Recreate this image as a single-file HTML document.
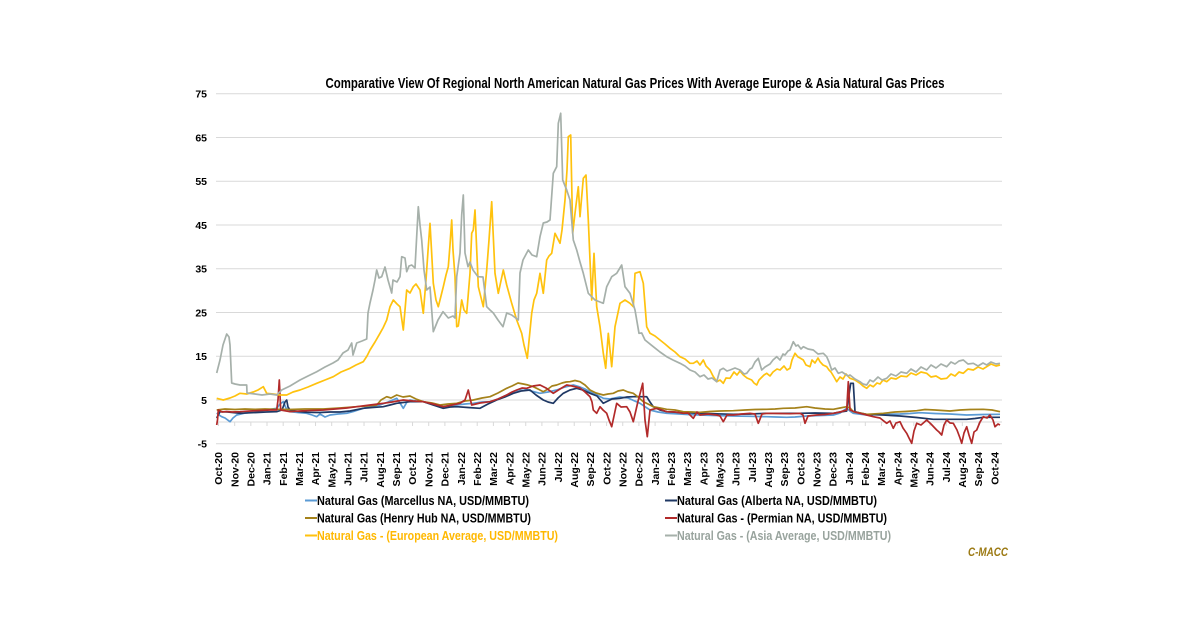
<!DOCTYPE html>
<html><head><meta charset="utf-8"><style>
html,body{margin:0;padding:0;background:#fff;}
svg{display:block;}
text{font-family:"Liberation Sans",sans-serif;}
</style></head><body>
<svg width="1200" height="627" viewBox="0 0 1200 627" xmlns="http://www.w3.org/2000/svg">
<rect width="1200" height="627" fill="#fff"/>
<text x="635" y="88" text-anchor="middle" font-size="15" font-weight="bold" fill="#000" textLength="619" lengthAdjust="spacingAndGlyphs">Comparative View Of Regional North American Natural Gas Prices With Average Europe &amp; Asia Natural Gas Prices</text>
<g stroke="#d9d9d9" stroke-width="1">
<line x1="216" y1="93.75" x2="1002" y2="93.75"/>
<line x1="216" y1="137.5" x2="1002" y2="137.5"/>
<line x1="216" y1="181.25" x2="1002" y2="181.25"/>
<line x1="216" y1="225" x2="1002" y2="225"/>
<line x1="216" y1="268.75" x2="1002" y2="268.75"/>
<line x1="216" y1="312.5" x2="1002" y2="312.5"/>
<line x1="216" y1="356.25" x2="1002" y2="356.25"/>
<line x1="216" y1="400" x2="1002" y2="400"/>
<line x1="216" y1="422" x2="1002" y2="422"/>
<line x1="216" y1="443.75" x2="1002" y2="443.75"/>
</g>
<g font-size="10.5" font-weight="bold" fill="#000" text-anchor="end">
<text x="207" y="97.5">75</text>
<text x="207" y="141.3">65</text>
<text x="207" y="185">55</text>
<text x="207" y="228.8">45</text>
<text x="207" y="272.5">35</text>
<text x="207" y="316.3">25</text>
<text x="207" y="360">15</text>
<text x="207" y="403.8">5</text>
<text x="207" y="447.5">-5</text>
</g>
<g stroke="#d9d9d9" stroke-width="1">
<line x1="218.5" y1="422" x2="218.5" y2="426"/><line x1="234.67" y1="422" x2="234.67" y2="426"/><line x1="250.84" y1="422" x2="250.84" y2="426"/><line x1="267.01" y1="422" x2="267.01" y2="426"/><line x1="283.18" y1="422" x2="283.18" y2="426"/><line x1="299.35" y1="422" x2="299.35" y2="426"/><line x1="315.52" y1="422" x2="315.52" y2="426"/><line x1="331.69" y1="422" x2="331.69" y2="426"/><line x1="347.86" y1="422" x2="347.86" y2="426"/><line x1="364.03" y1="422" x2="364.03" y2="426"/><line x1="380.2" y1="422" x2="380.2" y2="426"/><line x1="396.37" y1="422" x2="396.37" y2="426"/><line x1="412.54" y1="422" x2="412.54" y2="426"/><line x1="428.71" y1="422" x2="428.71" y2="426"/><line x1="444.88" y1="422" x2="444.88" y2="426"/><line x1="461.05" y1="422" x2="461.05" y2="426"/><line x1="477.22" y1="422" x2="477.22" y2="426"/><line x1="493.39" y1="422" x2="493.39" y2="426"/><line x1="509.56" y1="422" x2="509.56" y2="426"/><line x1="525.73" y1="422" x2="525.73" y2="426"/><line x1="541.9" y1="422" x2="541.9" y2="426"/><line x1="558.07" y1="422" x2="558.07" y2="426"/><line x1="574.24" y1="422" x2="574.24" y2="426"/><line x1="590.41" y1="422" x2="590.41" y2="426"/><line x1="606.58" y1="422" x2="606.58" y2="426"/><line x1="622.75" y1="422" x2="622.75" y2="426"/><line x1="638.92" y1="422" x2="638.92" y2="426"/><line x1="655.09" y1="422" x2="655.09" y2="426"/><line x1="671.26" y1="422" x2="671.26" y2="426"/><line x1="687.43" y1="422" x2="687.43" y2="426"/><line x1="703.6" y1="422" x2="703.6" y2="426"/><line x1="719.77" y1="422" x2="719.77" y2="426"/><line x1="735.94" y1="422" x2="735.94" y2="426"/><line x1="752.11" y1="422" x2="752.11" y2="426"/><line x1="768.28" y1="422" x2="768.28" y2="426"/><line x1="784.45" y1="422" x2="784.45" y2="426"/><line x1="800.62" y1="422" x2="800.62" y2="426"/><line x1="816.79" y1="422" x2="816.79" y2="426"/><line x1="832.96" y1="422" x2="832.96" y2="426"/><line x1="849.13" y1="422" x2="849.13" y2="426"/><line x1="865.3" y1="422" x2="865.3" y2="426"/><line x1="881.47" y1="422" x2="881.47" y2="426"/><line x1="897.64" y1="422" x2="897.64" y2="426"/><line x1="913.81" y1="422" x2="913.81" y2="426"/><line x1="929.98" y1="422" x2="929.98" y2="426"/><line x1="946.15" y1="422" x2="946.15" y2="426"/><line x1="962.32" y1="422" x2="962.32" y2="426"/><line x1="978.49" y1="422" x2="978.49" y2="426"/><line x1="994.66" y1="422" x2="994.66" y2="426"/>
</g>
<g font-size="10.5" font-weight="bold" fill="#000" text-anchor="end">
<text transform="translate(222.2,452) rotate(-90)">Oct-20</text>
<text transform="translate(238.37,452) rotate(-90)">Nov-20</text>
<text transform="translate(254.54,452) rotate(-90)">Dec-20</text>
<text transform="translate(270.71,452) rotate(-90)">Jan-21</text>
<text transform="translate(286.88,452) rotate(-90)">Feb-21</text>
<text transform="translate(303.05,452) rotate(-90)">Mar-21</text>
<text transform="translate(319.22,452) rotate(-90)">Apr-21</text>
<text transform="translate(335.39,452) rotate(-90)">May-21</text>
<text transform="translate(351.56,452) rotate(-90)">Jun-21</text>
<text transform="translate(367.73,452) rotate(-90)">Jul-21</text>
<text transform="translate(383.9,452) rotate(-90)">Aug-21</text>
<text transform="translate(400.07,452) rotate(-90)">Sep-21</text>
<text transform="translate(416.24,452) rotate(-90)">Oct-21</text>
<text transform="translate(432.41,452) rotate(-90)">Nov-21</text>
<text transform="translate(448.58,452) rotate(-90)">Dec-21</text>
<text transform="translate(464.75,452) rotate(-90)">Jan-22</text>
<text transform="translate(480.92,452) rotate(-90)">Feb-22</text>
<text transform="translate(497.09,452) rotate(-90)">Mar-22</text>
<text transform="translate(513.26,452) rotate(-90)">Apr-22</text>
<text transform="translate(529.43,452) rotate(-90)">May-22</text>
<text transform="translate(545.6,452) rotate(-90)">Jun-22</text>
<text transform="translate(561.77,452) rotate(-90)">Jul-22</text>
<text transform="translate(577.94,452) rotate(-90)">Aug-22</text>
<text transform="translate(594.11,452) rotate(-90)">Sep-22</text>
<text transform="translate(610.28,452) rotate(-90)">Oct-22</text>
<text transform="translate(626.45,452) rotate(-90)">Nov-22</text>
<text transform="translate(642.62,452) rotate(-90)">Dec-22</text>
<text transform="translate(658.79,452) rotate(-90)">Jan-23</text>
<text transform="translate(674.96,452) rotate(-90)">Feb-23</text>
<text transform="translate(691.13,452) rotate(-90)">Mar-23</text>
<text transform="translate(707.3,452) rotate(-90)">Apr-23</text>
<text transform="translate(723.47,452) rotate(-90)">May-23</text>
<text transform="translate(739.64,452) rotate(-90)">Jun-23</text>
<text transform="translate(755.81,452) rotate(-90)">Jul-23</text>
<text transform="translate(771.98,452) rotate(-90)">Aug-23</text>
<text transform="translate(788.15,452) rotate(-90)">Sep-23</text>
<text transform="translate(804.32,452) rotate(-90)">Oct-23</text>
<text transform="translate(820.49,452) rotate(-90)">Nov-23</text>
<text transform="translate(836.66,452) rotate(-90)">Dec-23</text>
<text transform="translate(852.83,452) rotate(-90)">Jan-24</text>
<text transform="translate(869,452) rotate(-90)">Feb-24</text>
<text transform="translate(885.17,452) rotate(-90)">Mar-24</text>
<text transform="translate(901.34,452) rotate(-90)">Apr-24</text>
<text transform="translate(917.51,452) rotate(-90)">May-24</text>
<text transform="translate(933.68,452) rotate(-90)">Jun-24</text>
<text transform="translate(949.85,452) rotate(-90)">Jul-24</text>
<text transform="translate(966.02,452) rotate(-90)">Aug-24</text>
<text transform="translate(982.19,452) rotate(-90)">Sep-24</text>
<text transform="translate(998.36,452) rotate(-90)">Oct-24</text>
</g>
<g fill="none" stroke-width="1.7" stroke-linejoin="round">
<polyline stroke="#5b9bd5" points="216.7,413 219,415 221.7,416.7 225,418 230,421.7 233,418 236.7,415 245,413 256.7,411.7 266,410 276.7,408.3 280,404 283.3,401.7 286,408 290,411.7 298,412.5 306.7,413.3 312,415 316.7,416.7 320,414 325,417 330,415 338,414 346.7,413.3 355,411 363.3,408.3 372,406 380,405 388,402 396.7,398.3 400,403 403.3,408.3 407,402 410,400 416,401 423.3,401.7 433,404 443.3,406.7 450,405.5 456.7,405 465,404 473.3,403.3 482,402 490,401.7 498,399 506.7,395 515,391 523.3,388.3 531,391 540,393.3 548,392 556.7,390 565,387 573.3,385 580,387 585,389 590,391.7 597,395 603.3,398.3 610,399 620,397 628,398 640,403.3 650,410 658,412 666.7,413.3 680,414 690,414.7 700,415 715,415.5 733.3,416 750,416.3 766.7,416.7 776,417 786.7,417.3 795,417 806.7,416 820,415.5 833.3,415 840,413 846.7,408.3 850,411 853.3,413.3 866.7,415 880,414.5 900,414 910,413.5 920,412.7 935,413.5 950,414 966.7,415 983.3,414.5 1000,414.3"/>
<polyline stroke="#1f3864" points="216.7,418 220,411.7 228,412 240,413.3 256.7,412.5 266,412 276.7,411.7 282,410 285,402 286.7,400 288,407 290,410 298,411.5 306.7,412.3 320,412.5 330,412 340,412 350,411 363.3,408.3 372,407.5 383.3,406.7 390,405 396.7,403.3 403,402.5 410,401.7 416,401.5 423.3,401.7 433,405 443.3,408.3 450,407 456.7,406.7 468,407.5 480,408.3 488,404 496.7,400 505,397 513.3,393.3 521,391 530,390 536,395 543.3,400 548,402 553.3,403.3 558,398 563.3,393.3 570,390 576.7,388.3 583,390 590,393.3 597,396 603.3,403.3 612,399 620,398.3 627,397 633.3,396.7 640,396.7 646.7,396.7 650,402 653.3,406.7 660,410 666.7,411.7 680,412.5 700,413.3 716.7,413.8 733.3,414.3 750,414 766.7,413.3 785,413.3 800,413.3 815,413 833.3,413.3 840,412 846.7,411 849,395 850.7,383.3 853.3,383.3 854,395 855,411.7 860,413 866.7,414.3 883.3,415 900,416 916.7,417.5 933.3,419.3 950,419.3 966.7,419.3 975,418.5 983.3,417.3 1000,417.3"/>
<polyline stroke="#a5821a" points="216.7,410 225,409 235,409.5 245,409 255,409.3 265,409 276.7,409.3 290,409.5 305,409 323.3,409 340,408 356.7,406.7 366,406 376.7,405 381,400 386.7,396.7 391,398 396.7,395 403,397 410,396 416,399 423.3,401.7 432,403 440,405 448,404 456.7,403.3 465,401 473.3,400 482,398 490,396.7 498,393 506.7,388.3 512,386 518,383 523.3,384 528,385 533.3,386.7 538,389 543.3,391.7 548,389 552,386 556.7,385 562,383 566,382 570,381.7 575,380.5 580,381.7 585,385 590,390 596,393 603.3,395 608,394 613.3,393.3 618,391 623.3,390 628,392 633.3,393.3 638,397 643.3,401.7 648,404 653.3,406.7 660,408 666.7,409.3 675,410 683.3,411.7 692,412 700,412.3 710,411.5 720,411 733.3,410.7 745,410 755,409.5 766.7,409.3 775,409 783.3,408.3 795,408 806.7,406.7 815,408 825,409 833.3,409.3 840,408 846.7,406.7 850,408 853.3,411.7 860,413 866.7,414.3 875,413.8 883.3,413.3 895,412 905,411.5 916.7,410.7 925,409.5 935,410 950,411 960,410 970,409.5 983.3,409.3 992,410 1000,411.7"/>
<polyline stroke="#b22a2a" points="216.7,425 217.5,420 218.3,410 222,412 226.7,411.5 232,412 240,411.7 250,411 260,410.5 270,410 276.7,410 278,400 279.3,380 280,395 280.7,410 290,411.7 300,411 310,410.5 323.3,410 335,409 346.7,408 356.7,406.7 370,405 383.3,403.3 392,402 403.3,400 413,401 423.3,401.7 433,404 443.3,406.7 452,405 460,403.3 465,400 468.3,390 470,398 471.7,405 480,403 490,401.7 498,399 506.7,395 512,392 516.7,390 522,388 526.7,388.3 533,386 540,385 546,388 553.3,393.3 560,389 566.7,385 572,386 580,388 585,392 590,396.7 592,402 593.3,410 596.7,413.3 600,406.7 603,410 606.7,413.3 609,420 611.7,426.7 614,416 616.7,403.3 621,407 626.7,406.7 630,412 633.3,421.7 636,410 638.3,400 640.5,392 642.7,383.3 645,420 647.3,436.7 650,410 656.7,408.3 662,410 666.7,411.7 675,412 683.3,413.3 688,413 693.3,418.3 697,412 700,415 708,414 716.7,415 720,416 723.3,421.7 727,415 733.3,415 742,414 750,413.3 755,414 758.3,423.3 762,414 766.7,413.3 780,413.5 790,413.7 800,413.3 803,415 805,423.3 808,416 816.7,415 825,414.5 833.3,413.3 840,412 846.7,410 848.3,381.7 850,410 855,412 860,413.3 866.7,415 873.3,416.7 880,418 886.7,423.3 890,421 893.3,428.3 896,423 900,421.7 903,428 906.7,433.3 909,438 911.7,443.3 914,431 916.7,423.3 921,425 926.7,420 931,424 936.7,430 939,432 941.7,435 944,425 946.7,420 950,423 953.3,423.3 957,430 960,438 961.7,443.3 964,433 966.7,426.7 969,435 971.7,443.3 974,432 976.7,430 980,422 983.3,416.7 987,418 990,415 993,420 995,426.7 998,424 1000,425"/>
<polyline stroke="#ffc20e" points="216.7,398.3 223.3,400 230,398 235,396 240,393.3 246.7,394 253.3,392 258,390 263.3,386.7 266.7,393.3 273,394 280,395 286.7,395 293,392 300,390 308,387 316.7,383.3 325,380 333.3,376.7 341,372 350,368.3 356,365 363.3,361.7 367,356 370,350 375,342 380,333.3 383,328 386.7,320 390,306.7 393.3,300 397,304 400,306.7 403.3,330 406.7,290 410,293 413.3,286.7 416,284 420,290 423.3,313.3 426,280 428.3,246.7 430,223.3 431.5,250 433.3,283.3 436,300 438.3,306.7 441,296 443.3,286.7 446,275 448.3,266.7 450,245 451.7,220 453,250 455,276.7 456.7,326.7 458.3,326 460,313.3 461.7,300 464,310 466.7,313.3 470,273.3 471.7,233.3 473.3,230 475,210 478.3,286.7 483.3,306.7 486.7,270 489,240 491.7,201.7 493,230 495,273.3 498.3,293.3 503.3,270 506.7,285 511.7,303.3 516.7,320 521.7,333.3 524,345 527.3,358.3 531.7,313.3 534,300 536.7,293.3 540,273.3 543.3,293.3 546.7,260 549,256 551.7,253.3 555,233.3 560,243.3 562,230 565,200 567,170 568.3,136.7 570.7,135 572.7,233.3 575,213.3 578.3,186.7 580,216.7 583.3,178.3 586,175 588.3,220 590,260 591.7,300 594,253.3 596.7,306.7 600,326.7 603.3,353.3 605.7,368.3 608.3,333.3 611.7,366.7 615,326.7 620,303.3 625,300 630,303.3 633.3,306.7 635,273.3 640,271.7 643.3,283.3 646.7,326.7 650,333.3 655,336 660,340 665,344 670,348.3 675,352 680,356.7 685,359 690,363.3 693.3,363.3 697,361 700,365 703.3,360 706,366 710,370 713,376 716.7,381.7 720,380 723.3,383.3 726,378 730,378.3 734,372 737,375 740,371 743.3,375 747,378 751.7,380 754,383 756.7,385 759,380 761,378 764,375 766.7,373.3 770,376 773,372 777,369 780,370 784,366 787,370 790,368.3 792,360 795,353.3 798,357 800,358 803.3,360 806,365 810,366.7 812,360 815,363 818,358 820,361.7 823,365 826.7,366.7 829,370 831,372 834,377 836.7,381.7 840,377 843,379 846,374 850,378.3 855,380 860,383.3 863,386 866.7,388.3 870,385 873.3,386.7 877,383 880,384 883,380 886.7,381.7 891,378 896,379 901,376 906.7,376.7 911,373 916,375 921,372 926.7,373.3 931,377 936,376 941,379 946.7,378.3 951,374 955,376 959,372 963.3,373.3 968,369 973.3,370 978,367 983,369 986.7,366.7 991,364 996,366 1000,365"/>
<polyline stroke="#a6b0aa" points="216.7,373 220,360 223,345 226.7,334 229,337 230,345 231.7,383 235,384 240,385 246.7,385 247,393 255,394 262,395 270,394 276.7,395 281.7,390 290,386 300,380 308,376 316.7,371.7 325,367 333,363 338,360 343,353 348,350 351.7,343 353,355 356.7,343 362,341 366.7,339 368,313 370,303 373,290 375,280 376.7,270 379,278 381.7,276.7 385,267 388,280 391.7,293 393,280 397,282 400,276.7 401.7,256.7 405,258 406.7,271.7 409,266 411.7,265 415,268 416.5,240 418.3,206.7 420,225 421.7,240 424,270 426.7,290 430,287 433.3,331.7 436,325 438,320 443,311.7 448.3,318 453,316 455,318 456.7,276.7 460,253 461.7,215 463.3,195 465,253 468,266.7 470,262 473,270 478,276.7 483,277 486.7,306.7 490,310 493.3,313 498,320 503,326.7 506.7,313 511.7,315 518.3,320 520,273 523,260 528.3,250 532,255 536.7,256.7 540,236.7 543.3,223 547,222 550,220 553.3,173.3 556.7,166.7 558.3,123.3 560.7,113.3 562.7,180 566.7,190 570,200 573.3,240 576.7,250 580,262 583.3,273.3 588.3,293.3 595,300 600,302 603.3,303.3 606.7,286.7 611.7,276.7 616.7,273.3 621.7,265 625,286.7 630,293.3 635,310 639,333.3 641.7,333 645,340 653.3,346.7 660,352 666.7,356.7 673,360 680,363.3 685,366 690,370 695,372 700,376.7 704,375 708,379 712,378 716.7,381.7 720,370 723.3,368.3 727,371 730,370 735,368 740,370 744,374 746.7,373.3 750,369 752,368 755,362 758.3,358.3 761.7,370 765,367 770,364 773,360 776.7,356.7 780,360 783,354 785,355 788,351 790,350 793.3,341.7 796,346 798,345 801,349 803.3,346.7 808,349 813.3,350 818,354 823.3,353.3 826.7,356.7 829,362 831.7,370 835,368 838.3,373.3 842,372 845,374 848,376 850,375 855,379 860,381.7 863,384 866.7,385 870,380 873.3,381.7 878,377 882,380 886.7,378.3 891,374 896,376 901,372 906.7,373.3 911,369 916,372 921,367 926.7,370 931,365 936,368 941,364 946.7,366.7 951,362 955,364 959,361 963.3,360 968,364 973.3,363.3 978,366 983,363 986.7,365 991,362 996,364 1000,363.3"/>
</g>
<g stroke-width="2">
<line x1="305" y1="500.5" x2="317" y2="500.5" stroke="#5b9bd5"/>
<line x1="305" y1="518" x2="317" y2="518" stroke="#a5821a"/>
<line x1="305" y1="535.5" x2="317" y2="535.5" stroke="#ffc20e"/>
<line x1="665" y1="500.5" x2="677" y2="500.5" stroke="#1f3864"/>
<line x1="665" y1="518" x2="677" y2="518" stroke="#b22a2a"/>
<line x1="665" y1="535.5" x2="677" y2="535.5" stroke="#a6b0aa"/>
</g>
<g font-size="13" font-weight="bold">
<text x="317" y="505" fill="#000" textLength="212" lengthAdjust="spacingAndGlyphs">Natural Gas (Marcellus NA, USD/MMBTU)</text>
<text x="317" y="522.5" fill="#000" textLength="214" lengthAdjust="spacingAndGlyphs">Natural Gas (Henry Hub NA, USD/MMBTU)</text>
<text x="317" y="540" fill="#ffb800" textLength="241" lengthAdjust="spacingAndGlyphs">Natural Gas - (European Average, USD/MMBTU)</text>
<text x="677" y="505" fill="#000" textLength="200" lengthAdjust="spacingAndGlyphs">Natural Gas (Alberta NA, USD/MMBTU)</text>
<text x="677" y="522.5" fill="#000" textLength="210" lengthAdjust="spacingAndGlyphs">Natural Gas - (Permian NA, USD/MMBTU)</text>
<text x="677" y="540" fill="#98a39d" textLength="214" lengthAdjust="spacingAndGlyphs">Natural Gas - (Asia Average, USD/MMBTU)</text>
</g>
<text x="968" y="556" font-size="12" font-weight="bold" font-style="italic" fill="#9c7a14" textLength="40" lengthAdjust="spacingAndGlyphs">C-MACC</text>
</svg>
</body></html>
